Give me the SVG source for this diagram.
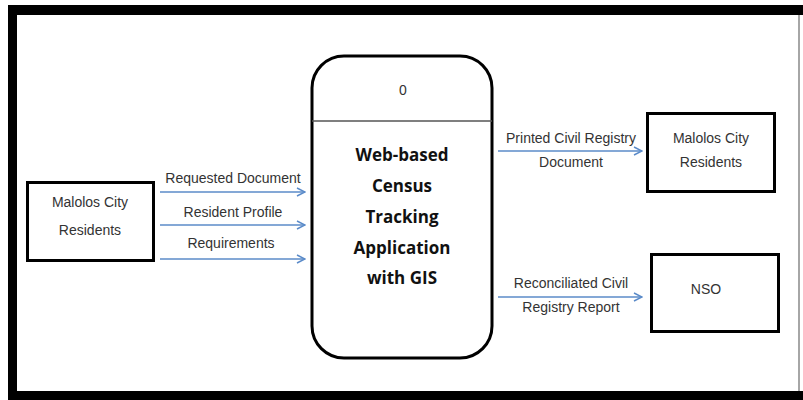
<svg xmlns="http://www.w3.org/2000/svg" width="803" height="400" viewBox="0 0 803 400">
<defs>
<marker id="arr" viewBox="0 0 10 10" refX="9" refY="5" markerWidth="10" markerHeight="10" markerUnits="userSpaceOnUse" orient="auto">
<path d="M1,1 L9,5 L1,9" fill="none" stroke="#5B8BC9" stroke-width="1.5"/>
</marker>
</defs>
<style>
.box{fill:#fff;stroke:#000;stroke-width:3}
.lbl{font-family:"Liberation Sans",Arial,sans-serif;font-size:14px;fill:#333;text-anchor:middle}
.ttl{font-family:"Open Sans","Liberation Sans",sans-serif;font-size:17px;font-weight:bold;fill:#111;text-anchor:middle}
.flow{stroke:#5B8BC9;stroke-width:1.6;fill:none;marker-end:url(#arr)}
</style>
<rect x="0" y="0" width="803" height="400" fill="#fff"/>
<g id="frame">
<rect x="8" y="5" width="795" height="10" fill="#000"/>
<rect x="8" y="5" width="9" height="395" fill="#000"/>
<rect x="8" y="391" width="795" height="9" fill="#000"/>
<line x1="799" y1="15" x2="799" y2="391" stroke="#888" stroke-width="1.5"/>
</g>
<g id="src">
<rect class="box" x="27.5" y="182.5" width="126" height="78"/>
<text class="lbl" x="90" y="207">Malolos City</text>
<text class="lbl" x="90" y="235">Residents</text>
</g>
<g id="process">
<rect class="box" x="312" y="56" width="180" height="302" rx="32" ry="32"/>
<line x1="312" y1="121" x2="492" y2="121" stroke="#555" stroke-width="1.5"/>
<text class="lbl" x="403" y="95">0</text>
<text class="ttl" x="402" y="161">Web-based</text>
<text class="ttl" x="402" y="192">Census</text>
<text class="ttl" x="402" y="223">Tracking</text>
<text class="ttl" x="402" y="254">Application</text>
<text class="ttl" x="402" y="284">with GIS</text>
</g>
<g id="dst1">
<rect class="box" x="647.5" y="113.5" width="127" height="78"/>
<text class="lbl" x="711" y="143">Malolos City</text>
<text class="lbl" x="711" y="167">Residents</text>
</g>
<g id="nso">
<rect class="box" x="651.5" y="254.5" width="127" height="77"/>
<text class="lbl" x="706" y="294">NSO</text>
</g>
<g id="connectors">
<line class="flow" x1="160" y1="192" x2="305" y2="192"/>
<line class="flow" x1="160" y1="225" x2="305" y2="225"/>
<line class="flow" x1="160" y1="259" x2="305" y2="259"/>
<line class="flow" x1="498" y1="151" x2="642" y2="151"/>
<line class="flow" x1="498" y1="297" x2="642" y2="297"/>
<text class="lbl" x="233" y="183">Requested Document</text>
<text class="lbl" x="233" y="217">Resident Profile</text>
<text class="lbl" x="231" y="248">Requirements</text>
<text class="lbl" x="571" y="143">Printed Civil Registry</text>
<text class="lbl" x="571" y="167">Document</text>
<text class="lbl" x="571" y="288">Reconciliated Civil</text>
<text class="lbl" x="571" y="312">Registry Report</text>
</g>
</svg>
